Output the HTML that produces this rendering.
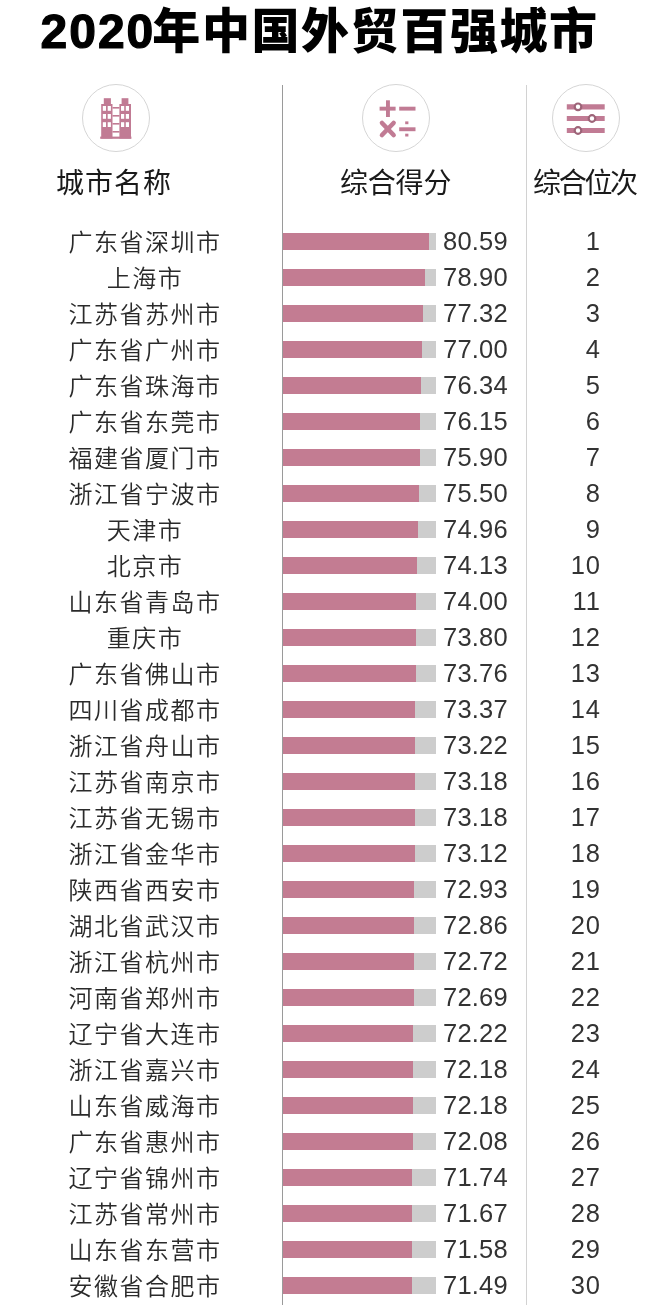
<!DOCTYPE html>
<html lang="zh-CN"><head><meta charset="utf-8"><title>2020年中国外贸百强城市</title>
<style>
*{margin:0;padding:0;box-sizing:border-box}
html,body{width:647px;height:1316px;background:#fff;overflow:hidden}
body{position:relative;font-family:"Liberation Sans","Noto Sans CJK SC",sans-serif;color:#222}
.title{position:absolute;left:40.5px;top:1px;height:62px;line-height:62px;font-size:48px;font-weight:900;letter-spacing:1.6px;color:#000;white-space:nowrap}
.title .d{font-family:"Liberation Sans",sans-serif;font-weight:700;letter-spacing:2px;-webkit-text-stroke:1.2px #000;margin-right:-3px}
.vl{position:absolute;top:85px;width:1px;height:1220px}
.vl1{left:282px;background:#9a9a9a}
.vl2{left:526px;background:#d2d2d2}
.circ{position:absolute;width:68px;height:68px;border-radius:50%;border:1px solid #d6d6d6;top:84px}
.ic{position:absolute;top:-1px;left:-1px}
.hd{position:absolute;top:161px;height:40px;line-height:40px;font-size:28px;font-weight:400;letter-spacing:1px;color:#1a1a1a;white-space:nowrap;font-family:"Noto Sans CJK SC",sans-serif}
.row{position:absolute;left:0;width:647px;height:36px}
.city{position:absolute;left:45px;width:200px;text-align:center;top:0px;height:36px;line-height:36px;font-size:24px;font-weight:350;letter-spacing:1.5px;font-family:"Noto Sans CJK SC",sans-serif;color:#2a2a2a;white-space:nowrap}
.bg{position:absolute;left:283px;width:153px;top:10px;height:17px;background:#cdcdcd}
.bar{position:absolute;left:283px;top:10px;height:17px;background:#c37c92}
.score{position:absolute;left:443px;top:0;height:36px;line-height:36px;font-size:25.5px;letter-spacing:0.2px;color:#333;font-family:"Liberation Sans",sans-serif}
.rank{position:absolute;right:46px;top:0;height:36px;line-height:36px;font-size:25.5px;letter-spacing:1px;color:#333;font-family:"Liberation Sans",sans-serif;text-align:right}
</style></head>
<body>
<div class="title"><span class="d">2020</span>年中国外贸百强城市</div>
<div class="vl vl1"></div><div class="vl vl2"></div>

<div class="circ" style="left:82px">
<svg class="ic" width="68" height="68" viewBox="82 84 68 68">
<g fill="#c17b94">
<rect x="101.2" y="104" width="11.3" height="34.5"/>
<rect x="103.8" y="98.2" width="7.1" height="6"/>
<rect x="119.4" y="104" width="11.6" height="34.5"/>
<rect x="121.6" y="98.2" width="6.8" height="6"/>
<rect x="100.2" y="136.6" width="31.2" height="2.2"/>
<rect x="112.5" y="107" width="7" height="1.6"/>
<rect x="112.5" y="115" width="7" height="1.6"/>
<rect x="112.5" y="123" width="7" height="1.6"/>
<rect x="112.5" y="131" width="7" height="1.6"/>
</g>
<g fill="#fff">
<rect x="102.8" y="106" width="3.2" height="4.8"/><rect x="107.7" y="106" width="3.2" height="4.8"/>
<rect x="102.8" y="114" width="3.2" height="4.8"/><rect x="107.7" y="114" width="3.2" height="4.8"/>
<rect x="102.8" y="122.2" width="3.2" height="4.8"/><rect x="107.7" y="122.2" width="3.2" height="4.8"/>
<rect x="121" y="106" width="3.2" height="4.8"/><rect x="125.8" y="106" width="3.2" height="4.8"/>
<rect x="121" y="114" width="3.2" height="4.8"/><rect x="125.8" y="114" width="3.2" height="4.8"/>
<rect x="121" y="122.2" width="3.2" height="4.8"/><rect x="125.8" y="122.2" width="3.2" height="4.8"/>
</g>
</svg>
</div>

<div class="circ" style="left:362px">
<svg class="ic" width="68" height="68" viewBox="362 84 68 68">
<g fill="#c17b94">
<rect x="379.6" y="106.7" width="16" height="3.9"/>
<rect x="386" y="100.3" width="3.9" height="16.7"/>
<rect x="399.2" y="106.7" width="16.3" height="3.9"/>
<rect x="399.2" y="127.3" width="16.3" height="3.9"/>
<rect x="405.2" y="121.4" width="3.2" height="2.8"/>
<rect x="405.2" y="133.7" width="3.2" height="2.8"/>
</g>
<g stroke="#c17b94" stroke-width="4.6" stroke-linecap="round">
<line x1="382" y1="123" x2="393.6" y2="135"/>
<line x1="393.6" y1="123" x2="382" y2="135"/>
</g>
</svg>
</div>

<div class="circ" style="left:552px">
<svg class="ic" width="68" height="68" viewBox="552 84 68 68">
<g stroke="#c17b94" stroke-width="5.2">
<line x1="566.8" y1="106.8" x2="604.7" y2="106.8"/>
<line x1="566.8" y1="118.5" x2="604.7" y2="118.5"/>
<line x1="566.8" y1="130.5" x2="604.7" y2="130.5"/>
</g>
<g fill="#fff" stroke="#9d6478" stroke-width="2.2">
<circle cx="578" cy="106.8" r="3.3"/>
<circle cx="592" cy="118.5" r="3.3"/>
<circle cx="578" cy="130.5" r="3.3"/>
</g>
</svg>
</div>

<div class="hd" style="left:56px">城市名称</div>
<div class="hd" style="left:340px;letter-spacing:-0.2px">综合得分</div>
<div class="hd" style="left:533px;letter-spacing:-2.3px">综合位次</div>

<div class="row" style="top:223px"><div class="city">广东省深圳市</div><div class="bg"></div><div class="bar" style="width:145.6px"></div><div class="score">80.59</div><div class="rank">1</div></div>
<div class="row" style="top:259px"><div class="city">上海市</div><div class="bg"></div><div class="bar" style="width:142.4px"></div><div class="score">78.90</div><div class="rank">2</div></div>
<div class="row" style="top:295px"><div class="city">江苏省苏州市</div><div class="bg"></div><div class="bar" style="width:139.5px"></div><div class="score">77.32</div><div class="rank">3</div></div>
<div class="row" style="top:331px"><div class="city">广东省广州市</div><div class="bg"></div><div class="bar" style="width:138.9px"></div><div class="score">77.00</div><div class="rank">4</div></div>
<div class="row" style="top:367px"><div class="city">广东省珠海市</div><div class="bg"></div><div class="bar" style="width:137.6px"></div><div class="score">76.34</div><div class="rank">5</div></div>
<div class="row" style="top:403px"><div class="city">广东省东莞市</div><div class="bg"></div><div class="bar" style="width:137.3px"></div><div class="score">76.15</div><div class="rank">6</div></div>
<div class="row" style="top:439px"><div class="city">福建省厦门市</div><div class="bg"></div><div class="bar" style="width:136.8px"></div><div class="score">75.90</div><div class="rank">7</div></div>
<div class="row" style="top:475px"><div class="city">浙江省宁波市</div><div class="bg"></div><div class="bar" style="width:136.1px"></div><div class="score">75.50</div><div class="rank">8</div></div>
<div class="row" style="top:511px"><div class="city">天津市</div><div class="bg"></div><div class="bar" style="width:135.1px"></div><div class="score">74.96</div><div class="rank">9</div></div>
<div class="row" style="top:547px"><div class="city">北京市</div><div class="bg"></div><div class="bar" style="width:133.5px"></div><div class="score">74.13</div><div class="rank">10</div></div>
<div class="row" style="top:583px"><div class="city">山东省青岛市</div><div class="bg"></div><div class="bar" style="width:133.3px"></div><div class="score">74.00</div><div class="rank">11</div></div>
<div class="row" style="top:619px"><div class="city">重庆市</div><div class="bg"></div><div class="bar" style="width:132.9px"></div><div class="score">73.80</div><div class="rank">12</div></div>
<div class="row" style="top:655px"><div class="city">广东省佛山市</div><div class="bg"></div><div class="bar" style="width:132.8px"></div><div class="score">73.76</div><div class="rank">13</div></div>
<div class="row" style="top:691px"><div class="city">四川省成都市</div><div class="bg"></div><div class="bar" style="width:132.1px"></div><div class="score">73.37</div><div class="rank">14</div></div>
<div class="row" style="top:727px"><div class="city">浙江省舟山市</div><div class="bg"></div><div class="bar" style="width:131.8px"></div><div class="score">73.22</div><div class="rank">15</div></div>
<div class="row" style="top:763px"><div class="city">江苏省南京市</div><div class="bg"></div><div class="bar" style="width:131.7px"></div><div class="score">73.18</div><div class="rank">16</div></div>
<div class="row" style="top:799px"><div class="city">江苏省无锡市</div><div class="bg"></div><div class="bar" style="width:131.7px"></div><div class="score">73.18</div><div class="rank">17</div></div>
<div class="row" style="top:835px"><div class="city">浙江省金华市</div><div class="bg"></div><div class="bar" style="width:131.6px"></div><div class="score">73.12</div><div class="rank">18</div></div>
<div class="row" style="top:871px"><div class="city">陕西省西安市</div><div class="bg"></div><div class="bar" style="width:131.3px"></div><div class="score">72.93</div><div class="rank">19</div></div>
<div class="row" style="top:907px"><div class="city">湖北省武汉市</div><div class="bg"></div><div class="bar" style="width:131.1px"></div><div class="score">72.86</div><div class="rank">20</div></div>
<div class="row" style="top:943px"><div class="city">浙江省杭州市</div><div class="bg"></div><div class="bar" style="width:130.9px"></div><div class="score">72.72</div><div class="rank">21</div></div>
<div class="row" style="top:979px"><div class="city">河南省郑州市</div><div class="bg"></div><div class="bar" style="width:130.8px"></div><div class="score">72.69</div><div class="rank">22</div></div>
<div class="row" style="top:1015px"><div class="city">辽宁省大连市</div><div class="bg"></div><div class="bar" style="width:129.9px"></div><div class="score">72.22</div><div class="rank">23</div></div>
<div class="row" style="top:1051px"><div class="city">浙江省嘉兴市</div><div class="bg"></div><div class="bar" style="width:129.9px"></div><div class="score">72.18</div><div class="rank">24</div></div>
<div class="row" style="top:1087px"><div class="city">山东省威海市</div><div class="bg"></div><div class="bar" style="width:129.9px"></div><div class="score">72.18</div><div class="rank">25</div></div>
<div class="row" style="top:1123px"><div class="city">广东省惠州市</div><div class="bg"></div><div class="bar" style="width:129.7px"></div><div class="score">72.08</div><div class="rank">26</div></div>
<div class="row" style="top:1159px"><div class="city">辽宁省锦州市</div><div class="bg"></div><div class="bar" style="width:129.1px"></div><div class="score">71.74</div><div class="rank">27</div></div>
<div class="row" style="top:1195px"><div class="city">江苏省常州市</div><div class="bg"></div><div class="bar" style="width:128.9px"></div><div class="score">71.67</div><div class="rank">28</div></div>
<div class="row" style="top:1231px"><div class="city">山东省东营市</div><div class="bg"></div><div class="bar" style="width:128.8px"></div><div class="score">71.58</div><div class="rank">29</div></div>
<div class="row" style="top:1267px"><div class="city">安徽省合肥市</div><div class="bg"></div><div class="bar" style="width:128.6px"></div><div class="score">71.49</div><div class="rank">30</div></div>
</body></html>
